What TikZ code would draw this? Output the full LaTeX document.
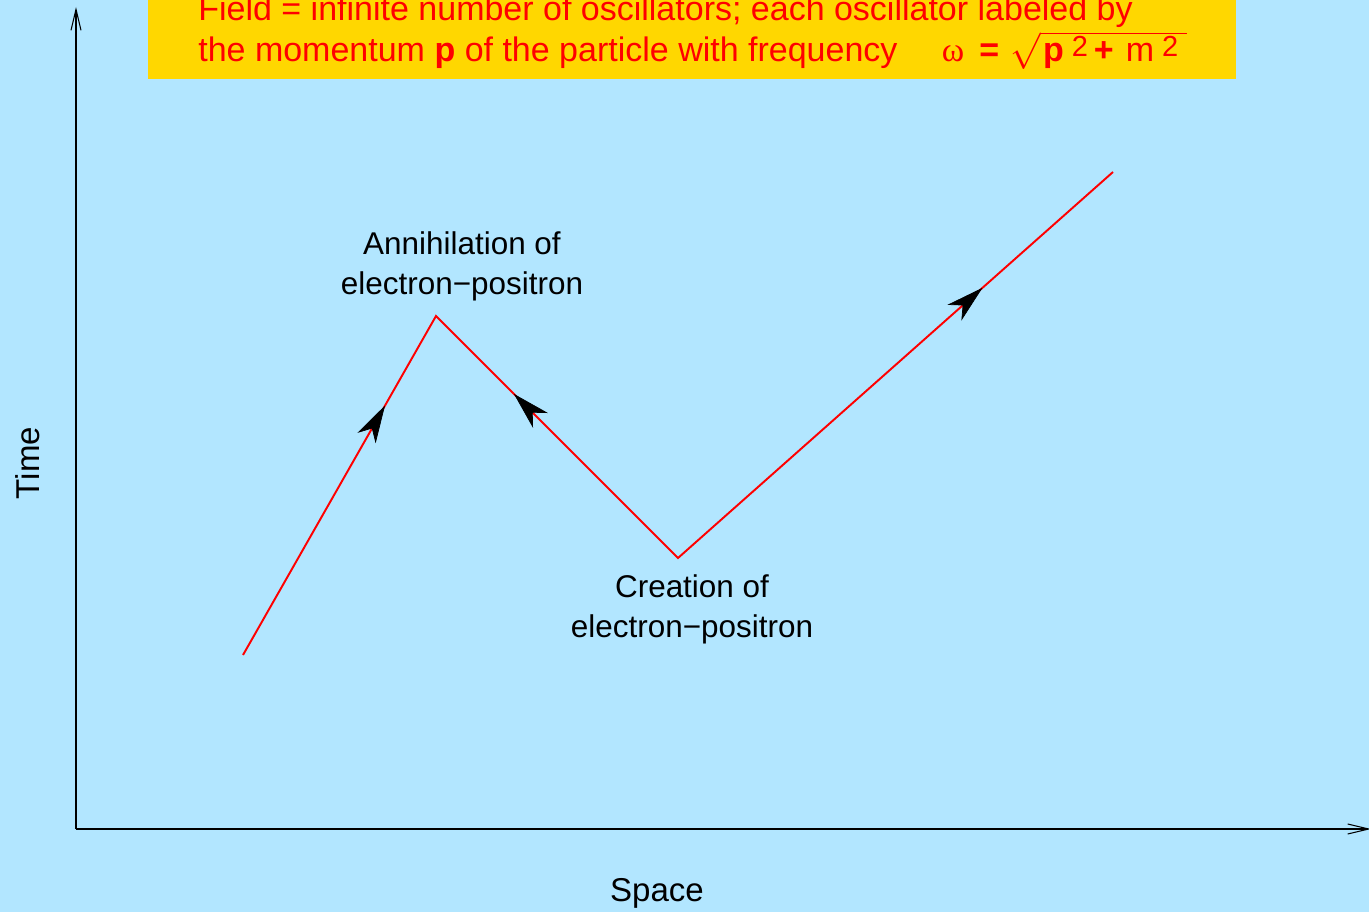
\documentclass[tikz,border=0pt]{standalone}
\usepackage{fontspec}
\setmainfont{Liberation Sans}
\newfontfamily\greekserif{Liberation Serif}
\usepackage{tikz}
\usetikzlibrary{arrows.meta, decorations.markings}
\definecolor{skyback}{RGB}{178,230,255}
\definecolor{headyellow}{RGB}{255,215,0}
\newcommand{\supsq}{\raisebox{0.16em}{\fontsize{16.5}{18}\selectfont 2}}
\tikzset{
    headline/.style={anchor=base west, inner sep=0pt, text=red, font=\fontsize{19.35}{24}\selectfont},
    eventlabel/.style={align=center, inner sep=0pt, font=\fontsize{17.9}{22.8}\selectfont},
    axislabel/.style={inner sep=0pt, font=\fontsize{18.8}{22}\selectfont},
    axisline/.style={-{Straight Barb[length=0.42cm, width=0.2cm]}, line width=0.6pt},
    worldline/.style={red, line width=1.1pt},
    flow/.style={postaction={decorate}, decoration={markings,
        mark=at position #1 with {\arrow{Stealth[length=0.75cm, width=0.42cm, inset=0.22cm]}}}}
}

\begin{document}
\begin{tikzpicture}[x=0.02cm, y=-0.02cm]
            \useasboundingbox (0,0) rectangle (1369,912);
            \fill [skyback] (0,0) rectangle (1369,912);

            % Header
            \fill [headyellow] (148,-5) rectangle (1236,79);
            \node (head1) [headline] at (198,21) {Field = infinite number of oscillators; each oscillator labeled by};
            \node (head2) [headline] at (198,62) {the momentum \textbf{p} of the particle with frequency\hspace{0.89cm}{\greekserif ω}\hspace{0.3cm}\textbf{=}\hspace{0.22cm}$\sqrt{\rule[-0.12cm]{0pt}{0.66cm}\mbox{\hspace{0.05cm}\textbf{p}\hspace{0.16cm}\supsq\hspace{0.12cm}\textbf{+}\hspace{0.24cm}m\hspace{0.16cm}\supsq\hspace{0.18cm}}}$};

            % Axes
            \coordinate (origin) at (76,829);
            \coordinate (ytop) at (76,7);
            \coordinate (xend) at (1371,829);
            \draw [axisline] (origin) -- (ytop);
            \draw [axisline] (origin) -- (xend);
            \node (time) [axislabel, rotate=90] at (28,463) {Time};
            \node (space) [axislabel, anchor=base] at (657,901) {Space};

            % World line
            \coordinate (start) at (243,655);
            \coordinate (ann) at (436,316);
            \coordinate (cre) at (678,558);
            \coordinate (fin) at (1113,172);
            \draw [worldline, line join=miter] (start) -- (ann) -- (cre) -- (fin);
            \path [flow=0.736] (start) -- (ann);
            \path [flow=0.678] (cre) -- (ann);
            \path [flow=0.70] (cre) -- (fin);

            % Event labels
            \node (annlabel) [eventlabel] at (462,266) {Annihilation of\\electron\textminus positron};
            \node (crelabel) [eventlabel] at (692,609) {Creation of\\electron\textminus positron};
		\end{tikzpicture}
\end{document}
